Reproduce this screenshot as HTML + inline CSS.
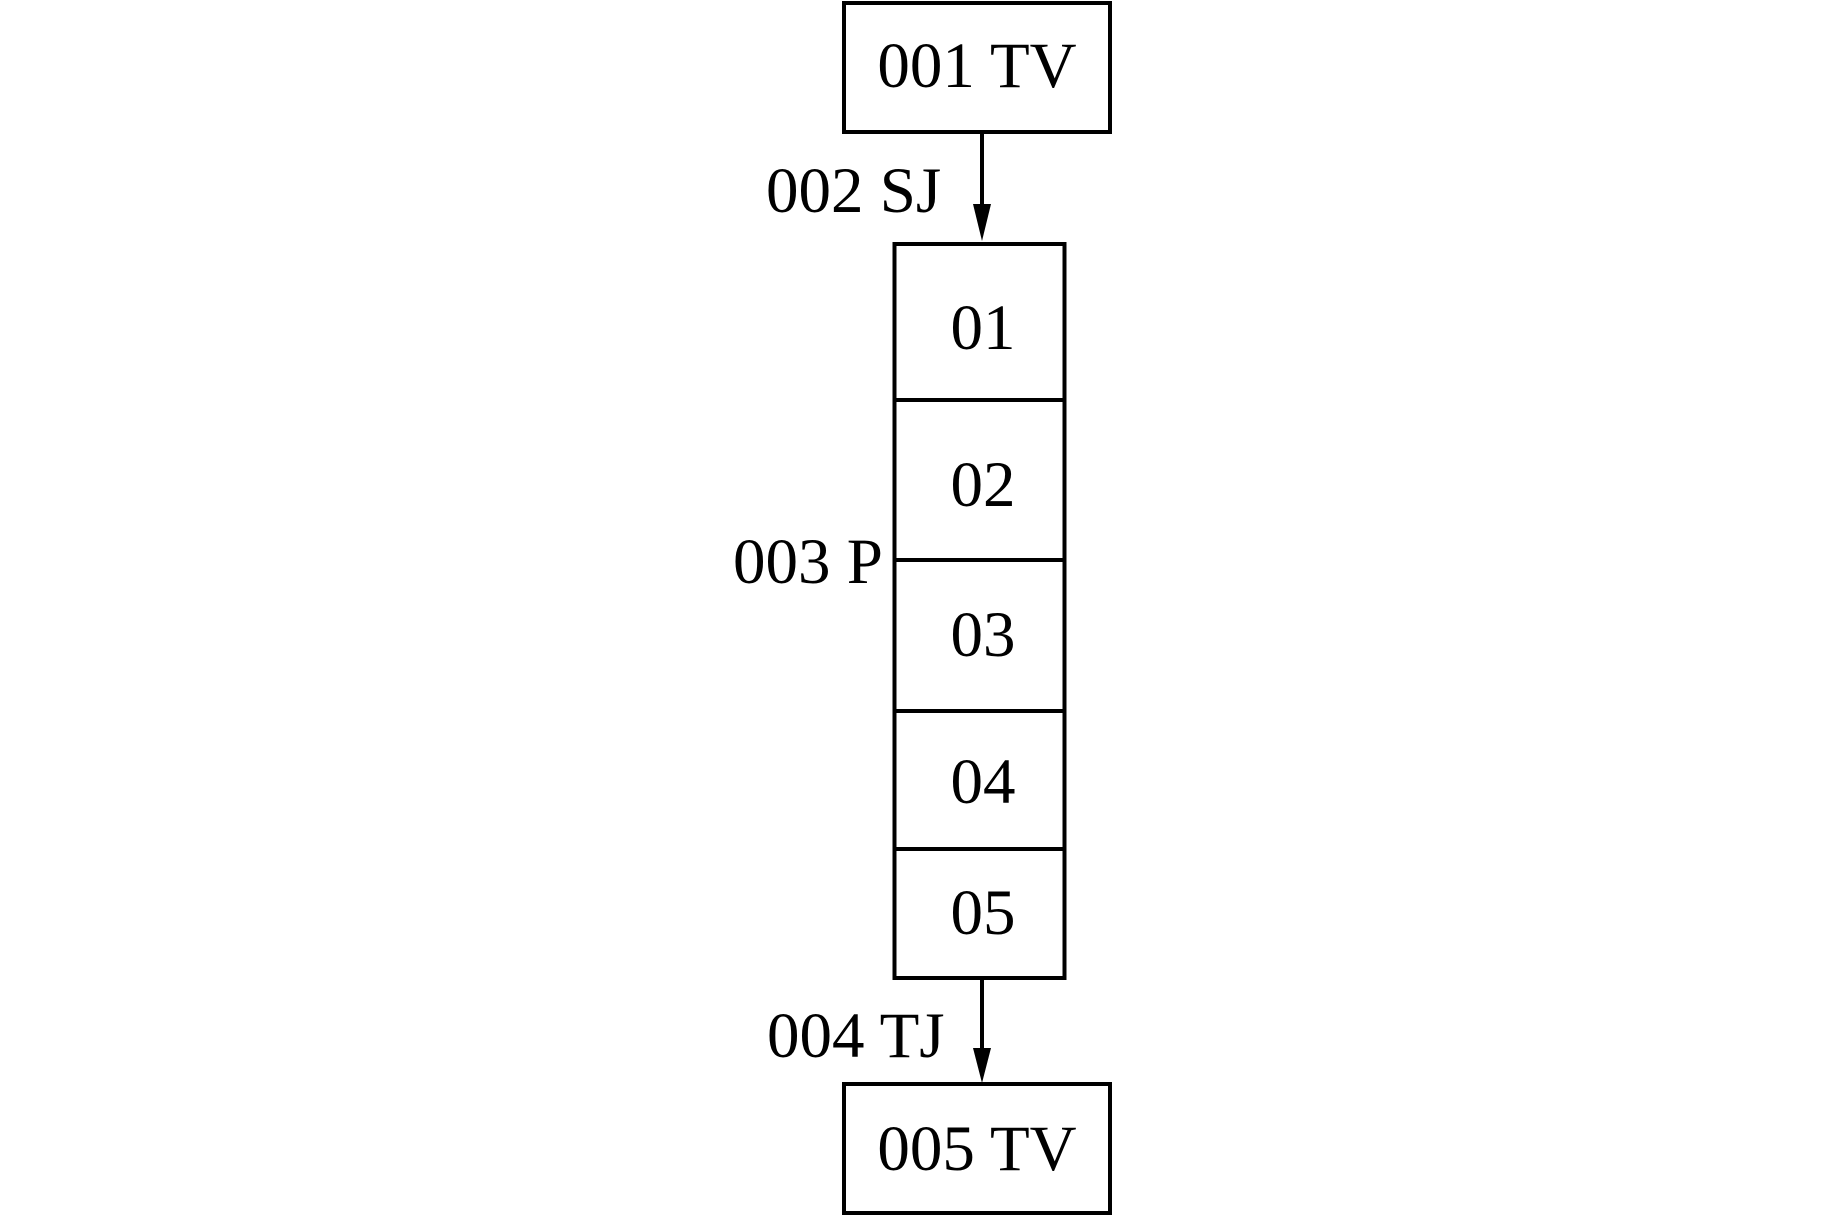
<!DOCTYPE html>
<html><head><meta charset="utf-8"><style>
html,body{margin:0;padding:0;background:#fff;}
svg{display:block;}
text{font-family:"Liberation Serif",serif;font-size:65px;fill:#000;}
</style></head><body>
<svg width="1843" height="1215" viewBox="0 0 1843 1215" xmlns="http://www.w3.org/2000/svg">
<g fill="none" stroke="#000" stroke-width="4">
<rect x="844" y="3" width="266" height="129"/>
<rect x="894.5" y="244" width="170" height="734"/>
<line x1="894" y1="400" x2="1065" y2="400"/>
<line x1="894" y1="560" x2="1065" y2="560"/>
<line x1="894" y1="711" x2="1065" y2="711"/>
<line x1="894" y1="849" x2="1065" y2="849"/>
<rect x="844" y="1084" width="266" height="129"/>
<line x1="982" y1="132" x2="982" y2="210"/>
<line x1="982" y1="978" x2="982" y2="1052"/>
</g>
<polygon points="973,204 991,204 982,241" fill="#000"/>
<polygon points="973,1048 991,1048 982,1083" fill="#000"/>
<text x="977" y="87" text-anchor="middle">001 TV</text>
<text x="766" y="212">002 SJ</text>
<text x="733" y="583">003 P</text>
<text x="767" y="1057">004 TJ</text>
<text x="983" y="349" text-anchor="middle">01</text>
<text x="983" y="506" text-anchor="middle">02</text>
<text x="983" y="656" text-anchor="middle">03</text>
<text x="983" y="803" text-anchor="middle">04</text>
<text x="983" y="934" text-anchor="middle">05</text>
<text x="977" y="1170" text-anchor="middle">005 TV</text>
</svg>
</body></html>
